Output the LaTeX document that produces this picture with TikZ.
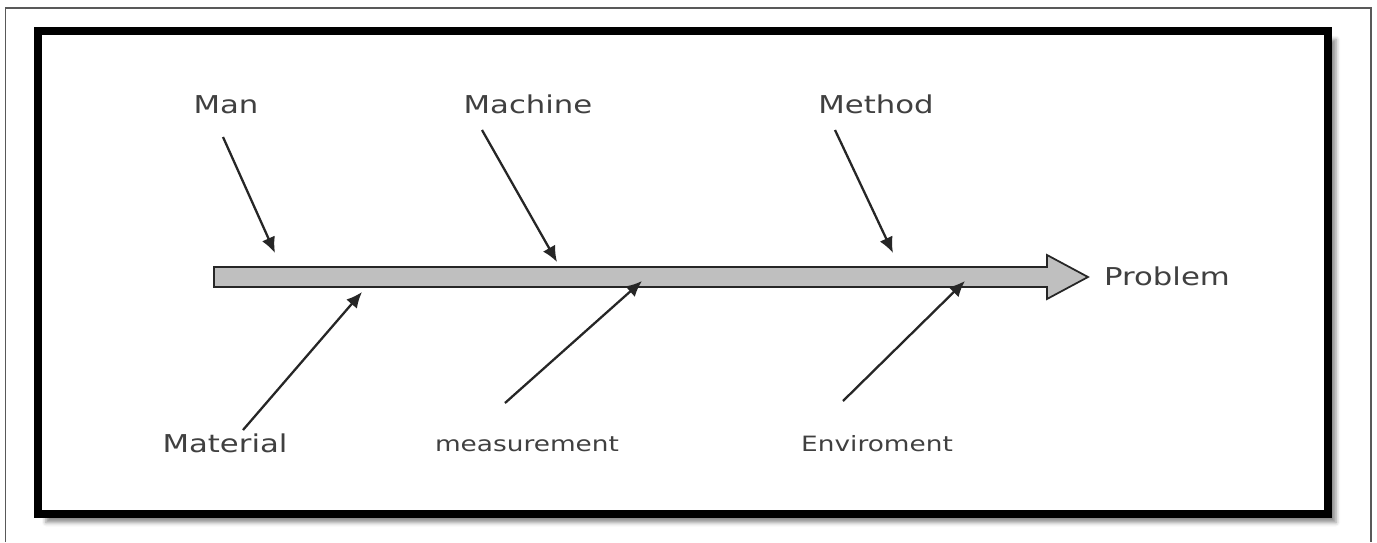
\documentclass[tikz,border=0pt]{standalone}
\usepackage{fontspec}
\setmainfont{DejaVu Sans}[FakeStretch=1.25]
\usetikzlibrary{arrows.meta,shadows.blur}

\begin{document}
\begin{tikzpicture}[x=0.02cm,y=-0.02cm,
  lbl/.style={text=black!75,font=\fontsize{14}{17}\selectfont,anchor=base,inner sep=0pt},
  lblsmall/.style={lbl,font=\fontsize{12}{14}\selectfont},
  cause/.style={black!85,line width=1.3pt,-{Latex[length=9pt,width=8pt]}}]
\useasboundingbox (0,0) rectangle (1377,542);
% page frame and shadowed box
\draw[black!65,line width=0.8pt] (5.5,542) -- (5.5,8) -- (1371,8) -- (1371,542);
\draw[line width=0.16cm,fill=white,blur shadow={shadow xshift=0.16cm,shadow yshift=-0.17cm,shadow blur radius=0.08cm,shadow opacity=45}] (38,31) rectangle (1328,514);
% spine
\draw[fill=black!25,draw=black!85,line width=1pt,line join=miter]
  (214,267) -- (1047,267) -- (1047,255) -- (1088,277) -- (1047,299) -- (1047,287) -- (214,287) -- cycle;
\node[lbl] (problem) at (1167,285) {Problem};
% causes above
\node[lbl] (man) at (226,113) {Man};
\node[lbl] (machine) at (528,113) {Machine};
\node[lbl] (method) at (876,113) {Method};
\coordinate (man-s) at (223,137); \coordinate (man-t) at (275,253);
\coordinate (machine-s) at (482,130); \coordinate (machine-t) at (557,262);
\coordinate (method-s) at (835,130); \coordinate (method-t) at (893,253);
\draw[cause] (man-s) -- (man-t);
\draw[cause] (machine-s) -- (machine-t);
\draw[cause] (method-s) -- (method-t);
% causes below
\node[lbl] (material) at (225,452) {Material};
\node[lblsmall] (measure) at (527,451) {measurement};
\node[lblsmall] (environ) at (877,451) {Enviroment};
\coordinate (material-s) at (243,430); \coordinate (material-t) at (362,292);
\coordinate (measure-s) at (505,403); \coordinate (measure-t) at (642,281);
\coordinate (environ-s) at (843,401); \coordinate (environ-t) at (965,281);
\draw[cause] (material-s) -- (material-t);
\draw[cause] (measure-s) -- (measure-t);
\draw[cause] (environ-s) -- (environ-t);
\end{tikzpicture}
\end{document}
